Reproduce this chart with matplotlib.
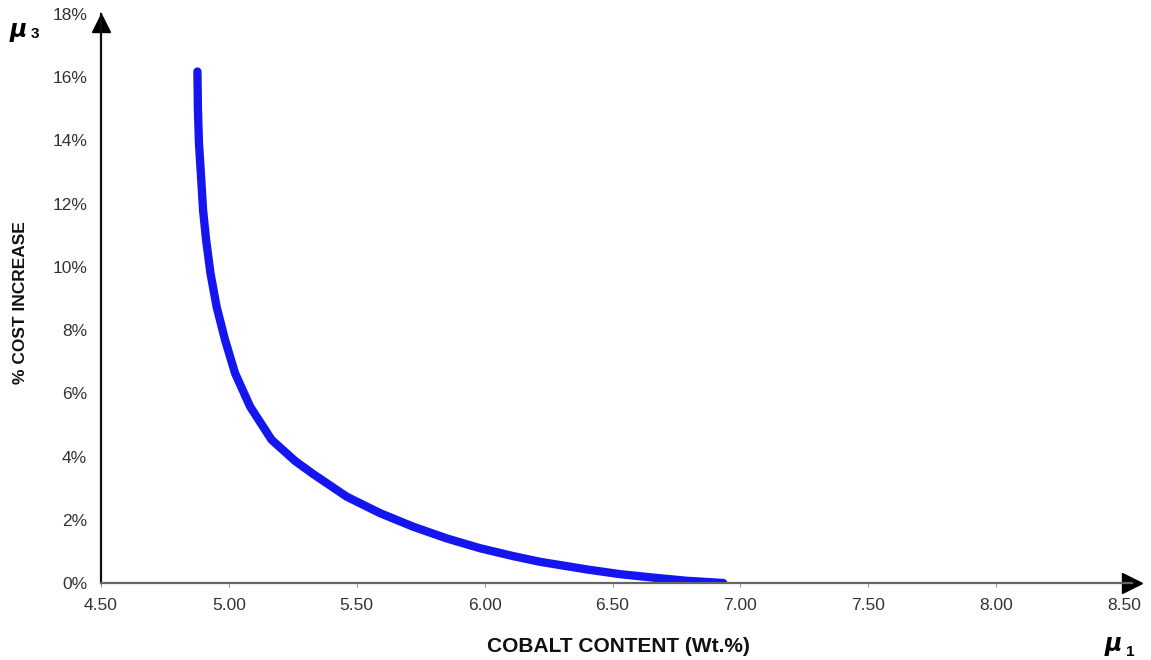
import matplotlib.pyplot as plt
from matplotlib.transforms import offset_copy

# curve
cobalt = [4.877, 4.879, 4.883, 4.892, 4.899, 4.911, 4.928, 4.952, 4.985, 5.024,
          5.083, 5.167, 5.259, 5.329, 5.461, 5.591, 5.721, 5.852, 5.982, 6.112,
          6.217, 6.399, 6.529, 6.660, 6.790, 6.933]
cost_pct = [16.18, 14.97, 13.92, 12.75, 11.80, 10.85, 9.80, 8.74, 7.69, 6.64,
            5.58, 4.53, 3.86, 3.45, 2.73, 2.21, 1.78, 1.41, 1.10, 0.85,
            0.67, 0.43, 0.28, 0.17, 0.07, 0.0]

x_ticks = [4.5, 5.0, 5.5, 6.0, 6.5, 7.0, 7.5, 8.0, 8.5]
y_ticks = [0, 2, 4, 6, 8, 10, 12, 14, 16, 18]

plt.rcParams['font.family'] = ['Liberation Sans', 'DejaVu Sans']

fig = plt.figure(figsize=(11.51, 6.60), dpi=100)
W, H = 1151, 660
left, right, top, bottom = 101, 1132, 14, 583
ax = fig.add_axes([left / W, 1 - bottom / H, (right - left) / W, (bottom - top) / H])

ax.plot(cobalt, cost_pct, color='#1515f0', lw=6, solid_capstyle='round',
        solid_joinstyle='round')

ax.set_xlim(4.5, 8.531)
ax.set_ylim(0, 18)

for s in ['top', 'right']:
    ax.spines[s].set_visible(False)
ax.spines['left'].set_color('#111111')
ax.spines['left'].set_linewidth(1.6)
ax.spines['bottom'].set_color('#666666')
ax.spines['bottom'].set_linewidth(1.6)

# arrow heads on the axes
ax.plot(1, 0, marker='>', color='black', markersize=14, transform=ax.transAxes, clip_on=False)
up = offset_copy(ax.transAxes, fig=fig, y=-9, units='dots')
ax.plot(0, 1, marker='^', color='black', markersize=12.5, transform=up, clip_on=False)

ax.set_xticks(x_ticks)
ax.set_xticklabels(['%.2f' % v for v in x_ticks])
ax.set_yticks(y_ticks)
ax.set_yticklabels(['%d%%' % v for v in y_ticks])
ax.tick_params(axis='x', length=3, color='#999999', pad=8, labelsize=12.5, labelcolor='#333333')
ax.tick_params(axis='y', length=0, pad=10, labelsize=12.5, labelcolor='#333333')

fig.text(618 / W, 1 - 647 / H, 'COBALT CONTENT (Wt.%)', ha='center', va='center',
         fontsize=15, fontweight='bold', color='#111111')
fig.text(21 / W, 1 - 303 / H, '% COST INCREASE', ha='center', va='center', rotation=90,
         fontsize=12.5, fontweight='bold', color='#111111')
fig.text(9 / W, 1 - 33 / H, r'$\boldsymbol{\mu}$', fontsize=17, ha='left', va='center')
fig.text(31 / W, 1 - 34 / H, '3', fontsize=11, fontweight='bold', ha='left', va='center')
fig.text(1104 / W, 1 - 646 / H, r'$\boldsymbol{\mu}$', fontsize=17, ha='left', va='center')
fig.text(1126 / W, 1 - 652 / H, '1', fontsize=11, fontweight='bold', ha='left', va='center')

fig.savefig('out.png', dpi=100)
